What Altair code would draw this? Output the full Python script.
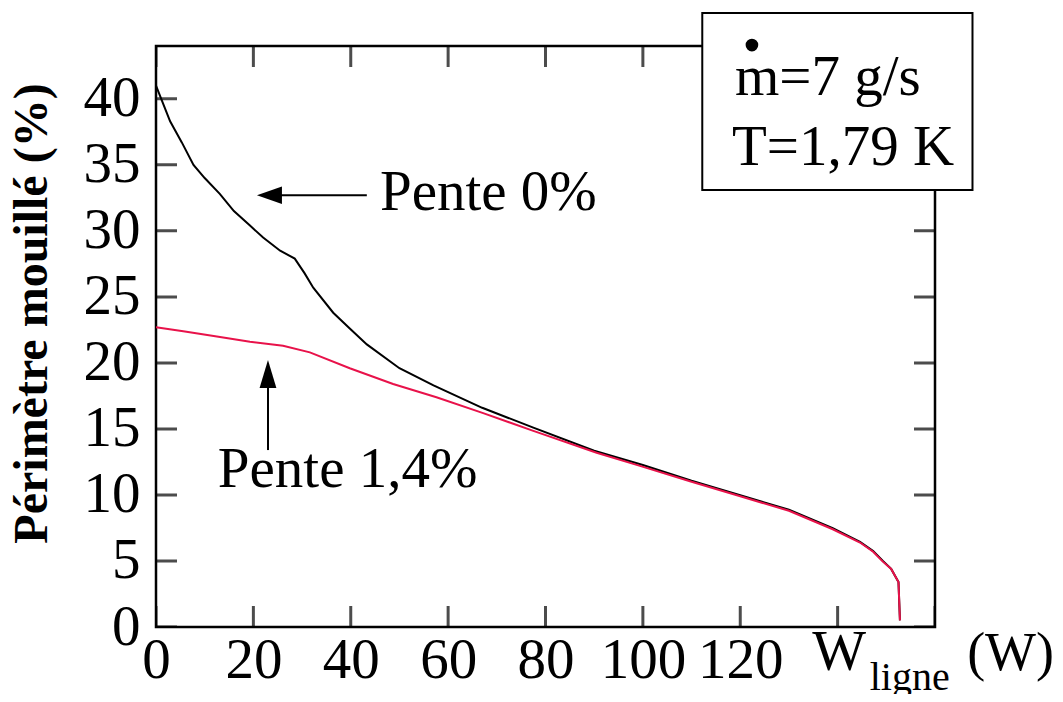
import altair as alt
import pandas as pd

# ---- data ----
w_pente0 = [0, 1.5, 2.9, 5.3, 7.7, 10, 13.1, 16, 19.3, 22, 25.5, 28.5, 30.5, 32.3, 36.4,
            39.8, 43.3, 50, 57, 67, 77.5, 90, 100, 110, 120, 130, 139, 144.6, 147.3,
            149.3, 151, 152.5, 152.8]
p_pente0 = [41.0, 39.6, 38.3, 36.7, 35.0, 34.0, 32.8, 31.5, 30.4, 29.5, 28.5, 27.9, 26.8,
            25.7, 23.8, 22.6, 21.4, 19.6, 18.3, 16.6, 15.1, 13.35, 12.27, 11.08, 9.98, 8.88,
            7.48, 6.45, 5.75, 5.0, 4.4, 3.4, 0.5]

w_pente14 = [0, 5.6, 12.5, 19.3, 26.1, 31.6, 39.8, 48.7, 57.6, 67.2, 77.5, 90.5, 99.4, 110,
             120, 130, 139, 144.6, 147.3, 149.3, 151, 152.5, 152.8]
p_pente14 = [22.7, 22.4, 22.0, 21.6, 21.3, 20.8, 19.6, 18.4, 17.4, 16.2, 14.85, 13.2, 12.2,
             11.0, 9.9, 8.8, 7.4, 6.4, 5.7, 4.95, 4.4, 3.4, 0.5]

x_ticks = [0, 20, 40, 60, 80, 100, 120, 140, 160]
x_labels = [0, 20, 40, 60, 80, 100, 120]
y_ticks = [0, 5, 10, 15, 20, 25, 30, 35, 40]

X_MAX = 160
Y_MAX = 44

FONT = "Liberation Serif"
FS = 57

df0 = pd.DataFrame({"W": w_pente0, "P": p_pente0})
df14 = pd.DataFrame({"W": w_pente14, "P": p_pente14})
dfx = pd.DataFrame({"t": x_ticks})
dfy = pd.DataFrame({"t": y_ticks})

xs = alt.Scale(domain=[0, X_MAX], nice=False, zero=False)
ys = alt.Scale(domain=[0, Y_MAX], nice=False, zero=False)

x_axis = alt.Axis(values=x_labels, title=None, grid=False, domain=False, ticks=False,
                  tickSize=0, labelFont=FONT, labelFontSize=FS, labelColor="black",
                  labelFlush=False, labelOverlap=False, labelPadding=5)
y_axis = alt.Axis(values=y_ticks, title="Périmètre mouillé (%)", grid=False, domain=False,
                  ticks=False, tickSize=0, labelFont=FONT, labelFontSize=FS,
                  labelColor="black", labelPadding=16, labelBaseline="middle",
                  labelOverlap=False,
                  titleFont=FONT, titleFontSize=48, titleFontWeight="bold",
                  titleColor="black", titleAngle=270, titleX=-110, titleY=267,
                  titleAlign="center", titleBaseline="alphabetic")

line0 = alt.Chart(df0).mark_line(color="black", strokeWidth=2).encode(
    x=alt.X("W:Q", scale=xs, axis=x_axis),
    y=alt.Y("P:Q", scale=ys, axis=y_axis),
)
line14 = alt.Chart(df14).mark_line(color="#e8124a", strokeWidth=2).encode(
    x=alt.X("W:Q", scale=xs),
    y=alt.Y("P:Q", scale=ys),
)

tick_bottom = alt.Chart(dfx).mark_tick(orient="vertical", size=42, thickness=3,
                                       color="black", clip=True).encode(
    x=alt.X("t:Q", scale=xs), y=alt.datum(0))
tick_top = alt.Chart(dfx).mark_tick(orient="vertical", size=42, thickness=3,
                                    color="black", clip=True).encode(
    x=alt.X("t:Q", scale=xs), y=alt.datum(Y_MAX))
tick_left = alt.Chart(dfy).mark_tick(orient="horizontal", size=42, thickness=3,
                                     color="black", clip=True).encode(
    y=alt.Y("t:Q", scale=ys), x=alt.datum(0))
tick_right = alt.Chart(dfy).mark_tick(orient="horizontal", size=42, thickness=3,
                                      color="black", clip=True).encode(
    y=alt.Y("t:Q", scale=ys), x=alt.datum(X_MAX))

base = alt.Chart(pd.DataFrame({"a": [0]}))

# legend box
box = base.mark_rect(fill="white", stroke="black", strokeWidth=2).encode(
    x=alt.datum(112.2), x2=alt.datum(167.7), y=alt.datum(33.1), y2=alt.datum(46.5))
dot = base.mark_circle(color="black", size=160, opacity=1).encode(
    x=alt.datum(122.4), y=alt.datum(44.07))
txt_m = base.mark_text(text="m=7 g/s", font=FONT, fontSize=FS, align="left",
                       baseline="alphabetic", color="black").encode(
    x=alt.datum(118.9), y=alt.datum(40.3))
txt_t = base.mark_text(text="T=1,79 K", font=FONT, fontSize=FS, align="left",
                       baseline="alphabetic", color="black").encode(
    x=alt.datum(118.3), y=alt.datum(35.0))

# annotations
txt_p0 = base.mark_text(text="Pente 0%", font=FONT, fontSize=FS, align="left",
                        baseline="alphabetic", color="black").encode(
    x=alt.datum(46.0), y=alt.datum(31.6))
shaft_p0 = base.mark_rule(color="black", strokeWidth=2).encode(
    x=alt.datum(23.2), x2=alt.datum(43.3), y=alt.datum(32.7))
head_p0 = base.mark_point(shape="M -1 0 L 1 -0.7 L 1 0.7 Z", size=625, filled=True,
                          color="black", opacity=1).encode(
    x=alt.datum(23.3), y=alt.datum(32.7))

txt_p14 = base.mark_text(text="Pente 1,4%", font=FONT, fontSize=FS, align="left",
                         baseline="alphabetic", color="black").encode(
    x=alt.datum(12.7), y=alt.datum(10.6))
shaft_p14 = base.mark_rule(color="black", strokeWidth=2).encode(
    x=alt.datum(23.0), y=alt.datum(13.4), y2=alt.datum(19.5))
head_p14 = base.mark_point(shape="M 0 -1 L -0.6 1 L 0.6 1 Z", size=784, filled=True,
                           color="black", opacity=1).encode(
    x=alt.datum(23.0), y=alt.datum(19.16))

# x axis title "W_ligne (W)"
txt_w = base.mark_text(text="W", font=FONT, fontSize=FS, align="center",
                       baseline="alphabetic", color="black").encode(
    x=alt.datum(140.3), y=alt.datum(-3.26))
txt_ligne = base.mark_text(text="ligne", font=FONT, fontSize=40, align="left",
                           baseline="alphabetic", color="black").encode(
    x=alt.datum(146.6), y=alt.datum(-4.77))
txt_unit = base.mark_text(text="(W)", font=FONT, fontSize=54, align="left",
                          baseline="alphabetic", color="black").encode(
    x=alt.datum(166.6), y=alt.datum(-3.26))

chart = alt.layer(
    line0, line14,
    tick_bottom, tick_top, tick_left, tick_right,
    shaft_p0, head_p0, txt_p0,
    shaft_p14, head_p14, txt_p14,
    box, dot, txt_m, txt_t,
    txt_w, txt_ligne, txt_unit,
).properties(
    width=779, height=581,
    autosize=alt.AutoSizeParams(type="none"),
    padding={"left": 148, "top": 38, "right": 120, "bottom": 67},
    background="white",
).configure_view(
    stroke="black", strokeWidth=2.5
)

chart.save("out.html", embed_options={"renderer": "svg", "actions": False})
